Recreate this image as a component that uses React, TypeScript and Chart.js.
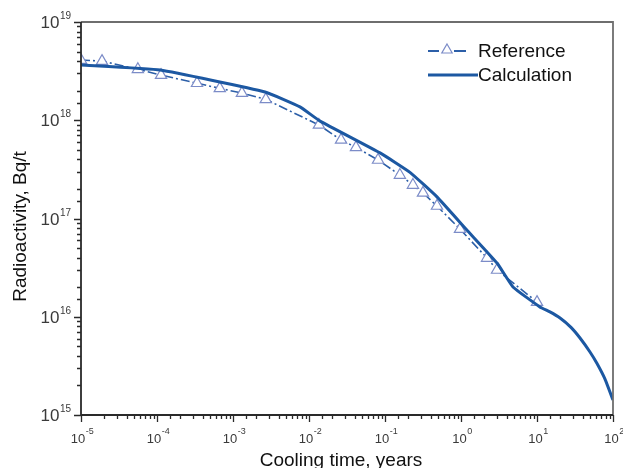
import React, { useEffect, useRef } from "react";
import { Chart, registerables } from "chart.js";

Chart.register(...registerables);

// ---- Data ----
const refLabel = "Reference";
const refTime = [1e-5, 1.89e-5, 5.6e-5, 1.13e-4, 3.36e-4, 6.7e-4, 1.31e-3, 2.7e-3, 0.0135, 0.0264, 0.0415, 0.081, 0.157, 0.233, 0.316, 0.483, 0.97, 2.2, 2.98, 10];
const refActivity = [4.1e18, 4.0e18, 3.3e18, 2.88e18, 2.38e18, 2.11e18, 1.89e18, 1.63e18, 8.96e17, 6.3e17, 5.3e17, 3.94e17, 2.77e17, 2.19e17, 1.82e17, 1.34e17, 7.8e16, 3.96e16, 2.99e16, 1.41e16];

const calcLabel = "Calculation";
const calcTime = [1e-5, 1.1e-4, 2.64e-3, 7.6e-3, 0.014, 0.086, 0.213, 0.483, 1.2, 2.98, 4.83, 10.9, 14.8, 20.1, 28, 36.8, 49.8, 61.1, 78.5, 100];
const calcActivity = [3.65e18, 3.24e18, 1.94e18, 1.37e18, 9.8e17, 4.65e17, 2.95e17, 1.66e17, 7.6e16, 3.52e16, 2.01e16, 1.26e16, 1.12e16, 9.7e15, 7.8e15, 6.08e15, 4.38e15, 3.38e15, 2.32e15, 1.42e15];

const xTickValues = [1e-5, 1e-4, 1e-3, 1e-2, 1e-1, 1, 10, 100];
const xTickExponents = ["-5", "-4", "-3", "-2", "-1", "0", "1", "2"];
const yTickValues = [1e15, 1e16, 1e17, 1e18, 1e19];
const yTickExponents = ["15", "16", "17", "18", "19"];

const xTitle = "Cooling time, years";
const yTitle = "Radioactivity, Bq/t";

const FONT = "'Liberation Sans', Arial, Helvetica, sans-serif";

function isPow10(v: number) {
  const l = Math.log10(v);
  return Math.abs(l - Math.round(l)) < 1e-6;
}

const decorPlugin = {
  id: "decor",
  afterDatasetsDraw(chart: any) {
    const { ctx, chartArea: a, scales } = chart;
    const xs = scales.x;
    const ys = scales.y;
    ctx.save();

    // frame: top & right gray
    ctx.strokeStyle = "#6e6e6e";
    ctx.lineWidth = 1.8;
    ctx.beginPath();
    ctx.moveTo(a.left, a.top);
    ctx.lineTo(a.right, a.top);
    ctx.lineTo(a.right, a.bottom);
    ctx.stroke();
    // axes: left & bottom dark
    ctx.strokeStyle = "#2a2a2a";
    ctx.lineWidth = 1.8;
    ctx.beginPath();
    ctx.moveTo(a.left, a.top);
    ctx.lineTo(a.left, a.bottom);
    ctx.lineTo(a.right, a.bottom);
    ctx.stroke();

    // ticks
    ctx.lineWidth = 1.3;
    ctx.strokeStyle = "#2a2a2a";
    ctx.beginPath();
    for (const t of xs.ticks) {
      const px = Math.round(xs.getPixelForValue(t.value)) + 0.5;
      const len = isPow10(t.value) ? 7 : 4;
      ctx.moveTo(px, a.bottom);
      ctx.lineTo(px, a.bottom + len);
    }
    for (const t of ys.ticks) {
      const py = Math.round(ys.getPixelForValue(t.value)) + 0.5;
      const len = isPow10(t.value) ? 7 : 4;
      ctx.moveTo(a.left, py);
      ctx.lineTo(a.left - len, py);
    }
    ctx.stroke();

    // tick labels x
    ctx.fillStyle = "#3a3a3a";
    ctx.textBaseline = "alphabetic";
    xTickValues.forEach((v, i) => {
      const px = xs.getPixelForValue(v);
      ctx.font = `13px ${FONT}`;
      const wb = ctx.measureText("10").width;
      ctx.font = `9px ${FONT}`;
      const we = ctx.measureText(xTickExponents[i]).width;
      const x0 = px - (wb + we) / 2 + 1;
      ctx.textAlign = "left";
      ctx.font = `13px ${FONT}`;
      ctx.fillText("10", x0, a.bottom + 28);
      ctx.font = `9px ${FONT}`;
      ctx.fillText(xTickExponents[i], x0 + wb + 0.5, a.bottom + 19);
    });

    // tick labels y
    yTickValues.forEach((v, i) => {
      const py = ys.getPixelForValue(v);
      ctx.font = `10px ${FONT}`;
      const we = ctx.measureText(yTickExponents[i]).width;
      ctx.textAlign = "right";
      ctx.fillText(yTickExponents[i], a.left - 10, py - 3);
      ctx.font = `17px ${FONT}`;
      ctx.fillText("10", a.left - 10 - we - 0.5, py + 6);
    });

    // axis titles
    ctx.fillStyle = "#111";
    ctx.font = `19px ${FONT}`;
    ctx.textAlign = "center";
    ctx.textBaseline = "alphabetic";
    ctx.fillText(xTitle, (a.left + a.right) / 2 - 6, chart.height - 2);
    ctx.save();
    ctx.translate(26, (a.top + a.bottom) / 2 + 8);
    ctx.rotate(-Math.PI / 2);
    ctx.fillText(yTitle, 0, 0);
    ctx.restore();

    // legend
    const ds = chart.data.datasets;
    const lx = 428;
    const rows = [51, 75];
    ctx.font = `19px ${FONT}`;
    ctx.textAlign = "left";
    ctx.textBaseline = "middle";
    // Reference
    ctx.strokeStyle = ds[0].borderColor;
    ctx.lineWidth = 1.8;
    ctx.beginPath();
    ctx.moveTo(lx, rows[0]);
    ctx.lineTo(lx + 11, rows[0]);
    ctx.moveTo(lx + 26, rows[0]);
    ctx.lineTo(lx + 38, rows[0]);
    ctx.stroke();
    const cx = lx + 19, cy = rows[0] - 1, r = 6;
    ctx.beginPath();
    ctx.moveTo(cx, cy - r);
    ctx.lineTo(cx + r * 0.866, cy + r * 0.5);
    ctx.lineTo(cx - r * 0.866, cy + r * 0.5);
    ctx.closePath();
    ctx.fillStyle = "#fff";
    ctx.fill();
    ctx.strokeStyle = ds[0].pointBorderColor;
    ctx.lineWidth = 1.2;
    ctx.stroke();
    ctx.fillStyle = "#111";
    ctx.fillText(ds[0].label, 478, rows[0] + 1);
    // Calculation
    ctx.strokeStyle = ds[1].borderColor;
    ctx.lineWidth = 3;
    ctx.beginPath();
    ctx.moveTo(lx, rows[1]);
    ctx.lineTo(lx + 50, rows[1]);
    ctx.stroke();
    ctx.fillText(ds[1].label, 478, rows[1] + 1);

    ctx.restore();
  },
};

export default function App() {
  const canvasRef = useRef<HTMLCanvasElement | null>(null);

  useEffect(() => {
    document.body.style.margin = "0";
    const canvas = canvasRef.current;
    if (!canvas) return;
    const chart = new Chart(canvas, {
      type: "line",
      data: {
        datasets: [
          {
            label: refLabel,
            data: refTime.map((t, i) => ({ x: t, y: refActivity[i] })),
            borderColor: "#2c5fa8",
            borderWidth: 1.6,
            borderDash: [9, 3, 2, 3],
            pointStyle: "triangle",
            pointRadius: 6.5,
            pointBorderColor: "#7c8cc8",
            pointBackgroundColor: "#ffffff",
            pointBorderWidth: 1.2,
            tension: 0,
            fill: false,
            order: 1,
          },
          {
            label: calcLabel,
            data: calcTime.map((t, i) => ({ x: t, y: calcActivity[i] })),
            borderColor: "#1c58a2",
            borderWidth: 3,
            pointRadius: 0,
            tension: 0.12,
            fill: false,
            order: 0,
          },
        ],
      } as any,
      options: {
        animation: false,
        responsive: false,
        maintainAspectRatio: false,
        layout: { padding: { top: 22, right: 10, left: 0, bottom: 0 } },
        plugins: {
          legend: { display: false },
          tooltip: { enabled: false },
          title: { display: false },
        },
        scales: {
          x: {
            type: "logarithmic",
            min: 1e-5,
            max: 100,
            grid: { display: false },
            border: { display: false },
            ticks: { display: false, autoSkip: false },
            afterFit: (s: any) => {
              s.height = 53;
            },
          },
          y: {
            type: "logarithmic",
            min: 1e15,
            max: 1e19,
            grid: { display: false },
            border: { display: false },
            ticks: { display: false, autoSkip: false },
            afterFit: (s: any) => {
              s.width = 81;
            },
          },
        },
      } as any,
      plugins: [decorPlugin],
    });
    return () => chart.destroy();
  }, []);

  return (
    <div style={{ position: "fixed", left: 0, top: 0, width: 623, height: 468, background: "#fff" }}>
      <canvas ref={canvasRef} width={623} height={468} style={{ width: 623, height: 468, display: "block" }} />
    </div>
  );
}
